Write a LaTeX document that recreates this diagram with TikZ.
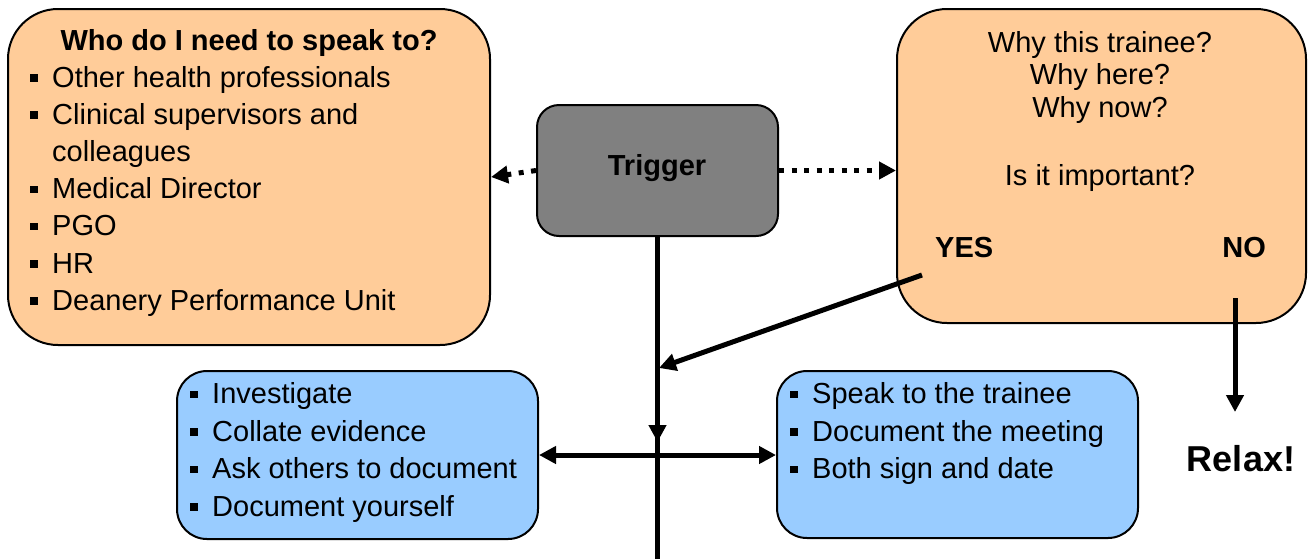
\documentclass[tikz,border=0pt]{standalone}
\usepackage{fontspec}
\setmainfont{Liberation Sans}
\usetikzlibrary{arrows.meta}
\definecolor{peach}{HTML}{FFCC99}
\definecolor{sky}{HTML}{99CCFF}
\definecolor{greybox}{HTML}{808080}
\newcommand\sqb{\rule[5.5pt]{7.5pt}{7.5pt}\hspace{14.5pt}}
\begin{document}
\begin{tikzpicture}[x=1pt,y=-1pt,
 box/.style={draw=black, line width=2pt, inner sep=0pt},
 obox/.style={box, fill=peach, rounded corners=50pt},
 bbox/.style={box, fill=sky, rounded corners=30pt},
 tbox/.style={box, fill=greybox, rounded corners=22pt},
 txt/.style={inner sep=0pt, font=\fontsize{29}{35}\selectfont},
 btxt/.style={inner sep=0pt, font=\bfseries\fontsize{29}{35}\selectfont},
 lt/.style={txt, anchor=base west},
 ct/.style={txt, anchor=base},
 conn/.style={line width=5pt},
 tipp/.style={-{Triangle[length=17pt,width=17pt]}},
 dots/.style={conn, dash pattern=on 5pt off 7.5pt}
]
\useasboundingbox (0,0) rectangle (1309,558);

% boxes
\node[obox, minimum width=482pt, minimum height=336pt] (who) at (249,177) {};
\node[obox, minimum width=409pt, minimum height=314pt] (why) at (1101.5,166) {};
\node[tbox, minimum width=241pt, minimum height=131pt] (trig) at (657.5,170.5) {};
\node[bbox, minimum width=361pt, minimum height=168pt] (lblue) at (357.5,455) {};
\node[bbox, minimum width=361pt, minimum height=167pt] (rblue) at (957.5,454.5) {};

% left box text
\node[btxt, anchor=base] (whot) at (249,50) {Who do I need to speak to?};
\node[lt] (w1) at (30,87) {\sqb Other health professionals};
\node[lt] (w2) at (30,124.2) {\sqb Clinical supervisors and};
\node[lt] (w3) at (52,161.4) {colleagues};
\node[lt] (w4) at (30,198.6) {\sqb Medical Director};
\node[lt] (w5) at (30,235.8) {\sqb PGO};
\node[lt] (w6) at (30,273) {\sqb HR};
\node[lt] (w7) at (30,310.2) {\sqb Deanery Performance Unit};

% right box text
\node[ct] (y1) at (1100,52) {Why this trainee?};
\node[ct] (y2) at (1100,84.5) {Why here?};
\node[ct] (y3) at (1100,117.5) {Why now?};
\node[ct] (y4) at (1100,185) {Is it important?};
\node[btxt, anchor=base west] (yes) at (935,257) {YES};
\node[btxt, anchor=base east] (no) at (1266,257) {NO};

% trigger
\node[btxt, anchor=base] (trigt) at (657,175) {Trigger};

% blue left
\node[lt] (l1) at (190,403.5) {\sqb Investigate};
\node[lt] (l2) at (190,441) {\sqb Collate evidence};
\node[lt] (l3) at (190,478.5) {\sqb Ask others to document};
\node[lt] (l4) at (190,516) {\sqb Document yourself};

% blue right
\node[lt] (r1) at (790,403.5) {\sqb Speak to the trainee};
\node[lt] (r2) at (790,441) {\sqb Document the meeting};
\node[lt] (r3) at (790,478.5) {\sqb Both sign and date};

% relax
\node[inner sep=0pt, anchor=base, font=\bfseries\fontsize{36}{40}\selectfont] (relax) at (1241,471) {Relax!};

% coordinates
\coordinate (cross) at (657.5,442);
\coordinate (crossup) at (657.5,430);
\coordinate (bottom) at (657.5,560);
\coordinate (yesS) at (922,275);
\coordinate (yesE) at (659,368);
\coordinate (noS) at (1235,298);
\coordinate (noE) at (1235,412);

% connectors
\draw[dots, tipp] (trig.east) -- (why.west |- trig.east);
\draw[dots, tipp] (trig.west) -- (who.east);
\draw[conn, tipp] (trig.south) -- (cross);
\draw[conn] (crossup) -- (bottom);
\draw[conn, tipp] (yesS) -- (yesE);
\draw[conn, {Triangle[length=17pt,width=17pt]}-{Triangle[length=17pt,width=17pt]}] (lblue.east) -- (rblue.west |- lblue.east);
\draw[conn, tipp] (noS) -- (noE);
\end{tikzpicture}
\end{document}
